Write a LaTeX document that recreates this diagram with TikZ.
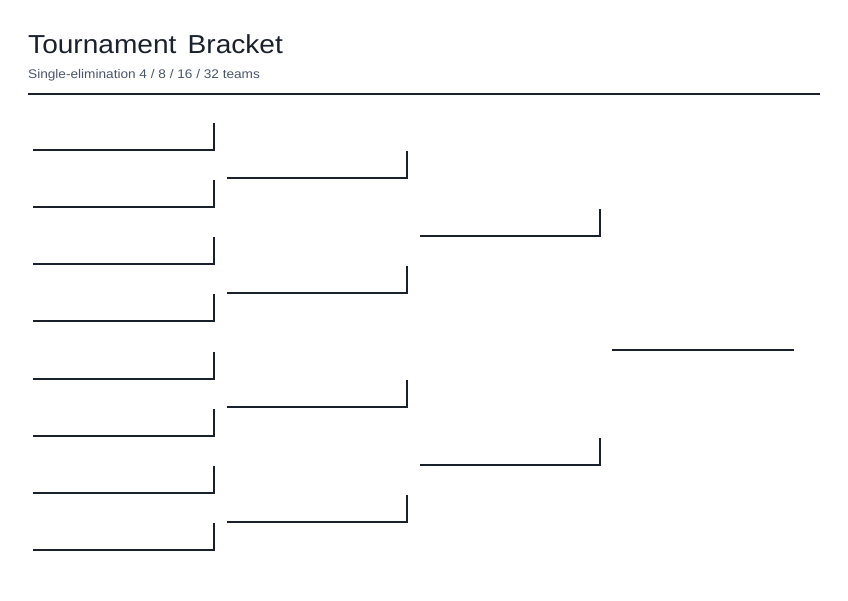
\documentclass[tikz,border=0pt]{standalone}
\usepackage{fontspec}
\setmainfont{Liberation Sans}
\definecolor{ink}{HTML}{1A202C}
\definecolor{sub}{HTML}{4A5568}
\begin{document}
\begin{tikzpicture}[x=1pt,y=-1pt,
  slot/.style={draw=ink,line width=1.6pt,line cap=rect}]
\useasboundingbox (0,0) rectangle (848,600);
\node[anchor=base west,inner sep=0,text=ink,font=\fontsize{26}{30}\selectfont] (title) at (28,53) {\scalebox{1.08}[1]{Tournament\hspace{0.4em}Bracket}};
\node[anchor=base west,inner sep=0,text=sub,font=\fontsize{12.5}{15}\selectfont] (subtitle) at (28,78) {\scalebox{1.09}[1]{Single-elimination 4 / 8 / 16 / 32 teams}};
\draw[ink,line width=2.6pt] (28,94) -- (820,94);
% round 1
\foreach \y in {150,207,264,321,379,436,493,550}
  \draw[slot] (34,\y) -- (214,\y) -- (214,\y-26);
% round 2
\foreach \y in {178,293,407,522}
  \draw[slot] (228,\y) -- (407,\y) -- (407,\y-26);
% round 3
\foreach \y in {236,465}
  \draw[slot] (421,\y) -- (600,\y) -- (600,\y-26);
% final
\draw[slot] (613,350) -- (793,350);
\end{tikzpicture}
\end{document}
